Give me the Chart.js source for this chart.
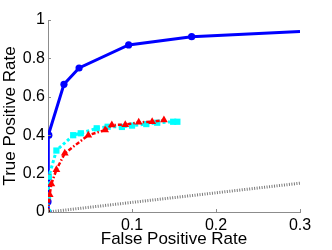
<!DOCTYPE html>
<html><head><meta charset="utf-8">
<script src="https://cdn.jsdelivr.net/npm/chart.js@4"></script>
<style>html,body{margin:0;padding:0;background:#fff}#w{width:332px;height:250px}</style>
</head><body><div id="w"><canvas id="c"></canvas></div>
<script>
const xTicks = [0, 0.1, 0.2, 0.3];
const yTicks = [0, 0.2, 0.4, 0.6, 0.8, 1];
const xTickLabels = ['', '0.1', '0.2', '0.3'];
const yTickLabels = ['0', '0.2', '0.4', '0.6', '0.8', '1'];

const blueX = [0, 0, 0, 0.001, 0.019, 0.037, 0.096, 0.171, 0.3];
const blueY = [0, 0.054, 0.18, 0.40, 0.665, 0.75, 0.87, 0.913, 0.94];
const blueMarker = [1, 1, 1, 1, 1, 1, 1, 1, 0];

const cyanX = [0, 0, 0.001, 0.010, 0.030, 0.039, 0.058, 0.071, 0.088, 0.100, 0.117, 0.130, 0.149, 0.154];
const cyanY = [0, 0.083, 0.184, 0.32, 0.40, 0.41, 0.436, 0.444, 0.443, 0.45, 0.458, 0.465, 0.47, 0.47];

const redX = [0, 0.002, 0.004, 0.010, 0.020, 0.048, 0.068, 0.076, 0.092, 0.108, 0.124, 0.138];
const redY = [0, 0.09, 0.146, 0.22, 0.306, 0.40, 0.427, 0.453, 0.455, 0.467, 0.47, 0.479];

const grayX = [0, 0.3];
const grayY = [0, 0.15];

const originX = [0];
const originY = [0];

const pts = (xs, ys) => xs.map((x, i) => ({x, y: ys[i]}));

const inwardTicks = {
  id: 'inwardTicks',
  afterDatasetsDraw(chart) {
    const {ctx, chartArea, scales} = chart;
    ctx.save();
    ctx.strokeStyle = '#8c8c8c';
    ctx.lineWidth = 1;
    ctx.beginPath();
    xTicks.forEach(v => {
      const px = Math.round(scales.x.getPixelForValue(v)) + 0.5;
      ctx.moveTo(px, chartArea.bottom);
      ctx.lineTo(px, chartArea.bottom - 3);
    });
    yTicks.forEach(v => {
      const py = Math.round(scales.y.getPixelForValue(v)) + 0.5;
      ctx.moveTo(chartArea.left, py);
      ctx.lineTo(chartArea.left + 3, py);
    });
    ctx.stroke();
    ctx.restore();
  }
};

new Chart(document.getElementById('c'), {
  type: 'scatter',
  data: {
    datasets: [
      {data: pts(originX, originY), backgroundColor: '#000', borderColor: '#000', pointStyle: 'rect', pointRadius: 2.5, pointBorderWidth: 0, showLine: false},
      {data: pts(redX, redY), borderColor: '#ff0000', backgroundColor: '#ff0000', borderWidth: 2.5, borderDash: [4, 2, 1.5, 2], pointStyle: 'triangle', pointRadius: 4.5, pointBorderWidth: 0, showLine: true},
      {data: pts(cyanX, cyanY), borderColor: '#00ffff', backgroundColor: '#00ffff', borderWidth: 3, borderDash: [3, 2.5], pointStyle: 'rect', pointRadius: 4.4, pointBorderWidth: 0, showLine: true},
      {data: pts(blueX, blueY), borderColor: '#0000ff', backgroundColor: '#0000ff', borderWidth: 3, pointStyle: 'circle', pointRadius: blueMarker.map(m => m ? 3.6 : 0), pointBorderWidth: 0, showLine: true},
      {data: pts(grayX, grayY), borderColor: '#7a7a7a', borderWidth: 3, borderDash: [1, 1.5], pointRadius: 0, showLine: true}
    ]
  },
  options: {
    responsive: true, maintainAspectRatio: false, animation: false,
    layout: {padding: {top: 20, right: 32, left: 0, bottom: 0}},
    plugins: {legend: {display: false}, tooltip: {enabled: false}},
    elements: {line: {tension: 0}, point: {borderWidth: 0}},
    scales: {
      x: {
        type: 'linear', min: 0, max: 0.3,
        afterBuildTicks: s => { s.ticks = xTicks.map(v => ({value: v})); },
        afterFit: s => { s.height = 38; },
        grid: {display: false, drawTicks: false},
        border: {display: true, color: '#8c8c8c', width: 1},
        ticks: {padding: 4, color: '#000', font: {family: 'Liberation Sans', size: 16}, maxRotation: 0,
          callback: (v, i) => xTickLabels[i]},
        title: {display: true, text: 'False Positive Rate', color: '#000', font: {family: 'Liberation Sans', size: 17}, padding: {top: 0, bottom: 0}}
      },
      y: {
        type: 'linear', min: 0, max: 1,
        afterBuildTicks: s => { s.ticks = yTicks.map(v => ({value: v})); },
        afterFit: s => { s.width = 48; },
        grid: {display: false, drawTicks: false},
        border: {display: true, color: '#8c8c8c', width: 1},
        ticks: {padding: 3, color: '#000', font: {family: 'Liberation Sans', size: 16},
          callback: (v, i) => yTickLabels[i]},
        title: {display: true, text: 'True Positive Rate', color: '#000', font: {family: 'Liberation Sans', size: 17}, padding: {top: 0, bottom: 0}}
      }
    }
  },
  plugins: [inwardTicks]
});
</script>
</body></html>
